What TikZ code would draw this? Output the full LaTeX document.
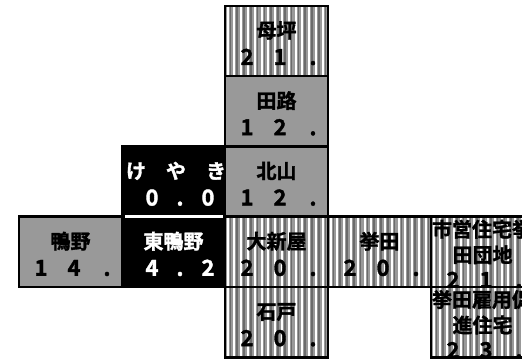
\documentclass[tikz,border=0pt]{standalone}
\usepackage{fontspec}
\newfontfamily\jp{Noto Sans CJK JP}[UprightFont=* Bold, FakeBold=1.6]
\usetikzlibrary{positioning}
\newcommand{\cellt}[2][29bp]{\parbox[c][64bp][t]{103bp}{\centering\rule{0pt}{#1}#2}}
\newcommand{\spreadrow}[5]{\makebox[\linewidth][l]{\fontsize{22bp}{26bp}\selectfont\hspace*{#2}\makebox[#1]{#3}\makebox[#1]{#4}\makebox[#1]{#5}}}
\newcommand{\dg}[3]{\spreadrow{33bp}{5.5bp}{#1}{#2}{#3}}
\tikzset{
  cell/.style={draw, line width=2.5bp, inner sep=0pt, outer sep=0pt, minimum width=103bp, minimum height=70.3bp, font=\jp\fontsize{20bp}{27bp}\selectfont},
  greycell/.style={cell, fill=black!40},
  blackcell/.style={cell, fill=black, text=white},
  stripecell/.style={cell, fill=black!40, path picture={
    \foreach \k in {0,...,15} {
      \fill[white] ([xshift=\k*6.8bp+1.5bp]path picture bounding box.south west) rectangle ([xshift=\k*6.8bp+3.5bp]path picture bounding box.north west);
      \fill[black!58] ([xshift=\k*6.8bp+4.6bp]path picture bounding box.south west) rectangle ([xshift=\k*6.8bp+6.2bp]path picture bounding box.north west);
    }}}
}
\begin{document}
\begin{tikzpicture}[x=1bp, y=-1bp]
\useasboundingbox (0,0) rectangle (522,359);
\node[blackcell] (higashi) at (173.5,251.8) {\cellt{東鴨野\par\spreadrow{28bp}{16bp}{4}{.}{2}}};
\node[greycell, left=0pt of higashi] (kamono) {\cellt{鴨野\par\dg{1}{4}{.}}};
\node[blackcell, above=0pt of higashi] (keyaki) {\cellt{\makebox[\linewidth][l]{\hspace*{-6bp}\makebox[40bp]{け}\makebox[40bp]{や}\makebox[40bp]{き}}\par\spreadrow{28bp}{16bp}{0}{.}{0}}};
\node[stripecell, right=0pt of higashi] (oniiya) {\cellt{大新屋\par\dg{2}{0}{.}}};
\node[greycell, above=0pt of oniiya] (kitayama) {\cellt{北山\par\dg{1}{2}{.}}};
\node[greycell, above=0pt of kitayama] (toji) {\cellt{田路\par\dg{1}{2}{.}}};
\node[stripecell, above=0pt of toji] (bonaru) {\cellt{母坪\par\dg{2}{1}{.}}};
\node[stripecell, below=0pt of oniiya] (ishido) {\cellt{石戸\par\dg{2}{0}{.}}};
\node[stripecell, right=0pt of oniiya] (agata) {\cellt{挙田\par\dg{2}{0}{.}}};
\node[stripecell, right=0pt of agata] (danchi) {\fontsize{20bp}{25.5bp}\selectfont\cellt[15.5bp]{\makebox[\linewidth][l]{\hspace*{1bp}市営住宅挙田}\par 田団地\par\dg{2}{1}{.}}};
\node[stripecell, below=0pt of danchi] (koyo) {\fontsize{20bp}{25.5bp}\selectfont\cellt[15.5bp]{\makebox[\linewidth][l]{\hspace*{1bp}挙田雇用促進}\par 進住宅\par\dg{2}{3}{.}}};
% white edge between the two black cells
\draw[white, line width=2.5bp] ([xshift=3bp]keyaki.south west) -- ([xshift=-2bp]keyaki.south east);
\end{tikzpicture}
\end{document}
